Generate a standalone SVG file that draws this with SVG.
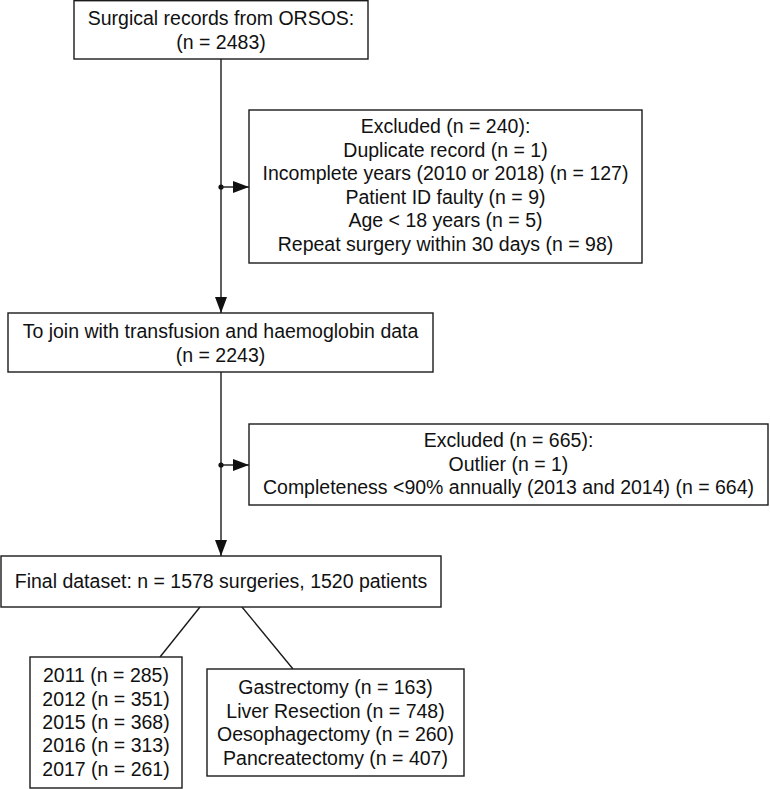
<svg xmlns="http://www.w3.org/2000/svg" width="770" height="789" viewBox="0 0 770 789">
<style>
  .box { fill: #ffffff; stroke: #1a1a1a; stroke-width: 1.4; }
  .t { font-family: "Liberation Sans", Arial, Helvetica, sans-serif; font-size: 19.5px; fill: #111111; text-anchor: middle; }
  .ln { stroke: #1a1a1a; stroke-width: 1.4; fill: none; }
</style>
<defs>
  <marker id="arr" markerWidth="16" markerHeight="12" refX="16" refY="6" orient="auto" markerUnits="userSpaceOnUse">
    <path d="M0,0 L16,6 L0,12 Z" fill="#111111"/>
  </marker>
</defs>
<rect width="770" height="789" fill="#ffffff"/>
<g id="connectors">
  <line class="ln" x1="221" y1="59" x2="221" y2="313" marker-end="url(#arr)"/>
  <circle cx="221" cy="187" r="2.6" fill="#111111"/>
  <line class="ln" x1="221" y1="187" x2="249" y2="187" marker-end="url(#arr)"/>
  <line class="ln" x1="221" y1="372" x2="221" y2="556" marker-end="url(#arr)"/>
  <circle cx="221" cy="465" r="2.6" fill="#111111"/>
  <line class="ln" x1="221" y1="465" x2="249" y2="465" marker-end="url(#arr)"/>
  <line class="ln" x1="200" y1="607" x2="160" y2="657"/>
  <line class="ln" x1="242" y1="607" x2="293" y2="669"/>
</g>
<g id="n1">
  <rect class="box" x="74" y="0.7" width="294" height="58.3"/>
  <text class="t" x="221" y="24.5">Surgical records from ORSOS:</text>
  <text class="t" x="221" y="48.5">(n = 2483)</text>
</g>
<g id="ex1">
  <rect class="box" x="249" y="110" width="393" height="153"/>
  <text class="t" x="445.5" y="133">Excluded (n = 240):</text>
  <text class="t" x="445.5" y="156.5">Duplicate record (n = 1)</text>
  <text class="t" x="445.5" y="180">Incomplete years (2010 or 2018) (n = 127)</text>
  <text class="t" x="445.5" y="203.5">Patient ID faulty (n = 9)</text>
  <text class="t" x="445.5" y="227">Age &lt; 18 years (n = 5)</text>
  <text class="t" x="445.5" y="250.5">Repeat surgery within 30 days (n = 98)</text>
</g>
<g id="n2">
  <rect class="box" x="8" y="313" width="425" height="59"/>
  <text class="t" x="220.5" y="338">To join with transfusion and haemoglobin data</text>
  <text class="t" x="220.5" y="361.5">(n = 2243)</text>
</g>
<g id="ex2">
  <rect class="box" x="249" y="424" width="519" height="81"/>
  <text class="t" x="508.5" y="447">Excluded (n = 665):</text>
  <text class="t" x="508.5" y="470.5">Outlier (n = 1)</text>
  <text class="t" x="508.5" y="494">Completeness &lt;90% annually (2013 and 2014) (n = 664)</text>
</g>
<g id="final">
  <rect class="box" x="1" y="556" width="440" height="51"/>
  <text class="t" x="221" y="588">Final dataset: n = 1578 surgeries, 1520 patients</text>
</g>
<g id="years">
  <rect class="box" x="30" y="657" width="152" height="131"/>
  <text class="t" x="106" y="682">2011 (n = 285)</text>
  <text class="t" x="106" y="705.5">2012 (n = 351)</text>
  <text class="t" x="106" y="729">2015 (n = 368)</text>
  <text class="t" x="106" y="752">2016 (n = 313)</text>
  <text class="t" x="106" y="775.5">2017 (n = 261)</text>
</g>
<g id="procedures">
  <rect class="box" x="207" y="669" width="257" height="107"/>
  <text class="t" x="335.5" y="694">Gastrectomy (n = 163)</text>
  <text class="t" x="335.5" y="717.5">Liver Resection (n = 748)</text>
  <text class="t" x="335.5" y="741">Oesophagectomy (n = 260)</text>
  <text class="t" x="335.5" y="764.5">Pancreatectomy (n = 407)</text>
</g>
</svg>
